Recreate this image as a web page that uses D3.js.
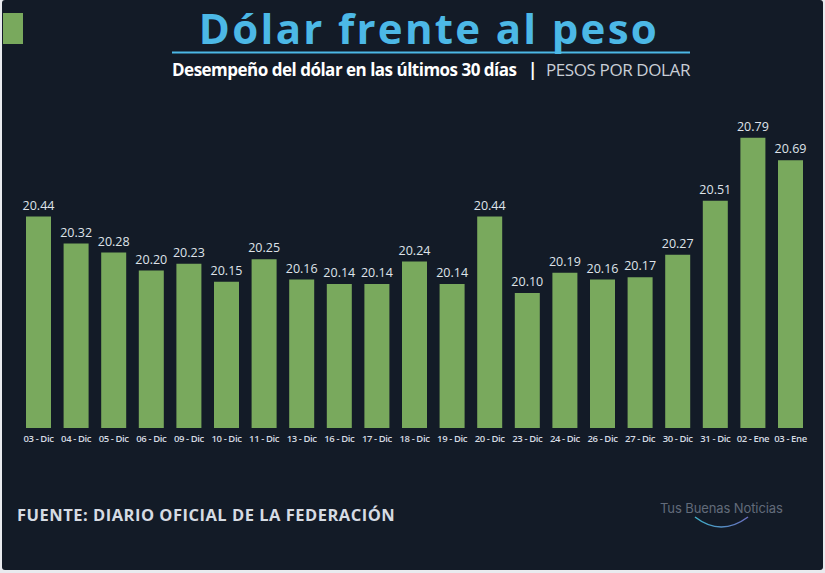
<!DOCTYPE html>
<html><head><meta charset="utf-8">
<script src="https://cdn.jsdelivr.net/npm/d3@7/dist/d3.min.js"></script>
<style>html,body{margin:0;padding:0;background:#e9ebef;}svg{display:block;}</style>
</head><body>
<script>
const categories = ["03 - Dic","04 - Dic","05 - Dic","06 - Dic","09 - Dic","10 - Dic","11 - Dic","13 - Dic","16 - Dic","17 - Dic","18 - Dic","19 - Dic","20 - Dic","23 - Dic","24 - Dic","26 - Dic","27 - Dic","30 - Dic","31 - Dic","02 - Ene","03 - Ene"];
const values = [20.44,20.32,20.28,20.20,20.23,20.15,20.25,20.16,20.14,20.14,20.24,20.14,20.44,20.10,20.19,20.16,20.17,20.27,20.51,20.79,20.69];
const valueLabels = ["20.44","20.32","20.28","20.20","20.23","20.15","20.25","20.16","20.14","20.14","20.24","20.14","20.44","20.10","20.19","20.16","20.17","20.27","20.51","20.79","20.69"];

const W = 825, H = 573;
const svg = d3.select("body").append("svg").attr("width", W).attr("height", H);

svg.append("rect").attr("x",2).attr("y",0).attr("width",821).attr("height",570).attr("rx",3).attr("fill","#131b27");

// green square
svg.append("rect").attr("x",3).attr("y",13).attr("width",20).attr("height",31).attr("fill","#79a95d");

// title
svg.append("text").attr("x",429).attr("y",44).attr("text-anchor","middle")
  .attr("font-family","Open Sans").attr("font-weight",700).attr("font-size",42).attr("letter-spacing",2.3)
  .attr("fill","#4cb8e6").text("Dólar frente al peso");
svg.append("line").attr("x1",172).attr("x2",690).attr("y1",52.5).attr("y2",52.5).attr("stroke","#4cb8e6").attr("stroke-width",2);

const sub = svg.append("text").attr("x",172).attr("y",76).attr("font-family","Open Sans").attr("font-size",17);
sub.append("tspan").attr("font-weight",700).attr("fill","#ffffff").attr("letter-spacing",-0.5).text("Desempeño del dólar en las últimos 30 días");
sub.append("tspan").attr("x",528).attr("font-weight",700).attr("fill","#ffffff").text("|");
sub.append("tspan").attr("x",546).attr("font-weight",400).attr("fill","#c9ced6").attr("letter-spacing",-0.4).text("PESOS POR DOLAR");

// chart
const x = d3.scaleBand().domain(categories).range([19.7, 809.3]).paddingInner(0.335).paddingOuter(0.1675);
const y = d3.scaleLinear().domain([19.5, 20.8]).range([428, 135.5]);

const g = svg.append("g");
g.selectAll("rect.bar").data(values).join("rect").attr("class","bar")
  .attr("x",(d,i)=>x(categories[i])).attr("width",x.bandwidth())
  .attr("y",d=>y(d)).attr("height",d=>y(19.5)-y(d)).attr("fill","#79a95d");

g.selectAll("text.val").data(values).join("text").attr("class","val")
  .attr("x",(d,i)=>x(categories[i])+x.bandwidth()/2).attr("y",d=>y(d)-7)
  .attr("text-anchor","middle").attr("font-family","Open Sans").attr("font-size",12.5)
  .attr("fill","#dfe3ea").text((d,i)=>valueLabels[i]);

const xAxis = d3.axisBottom(x).tickSize(0).tickPadding(7);
const ax = svg.append("g").attr("transform","translate(0,428)").call(xAxis);
ax.select(".domain").remove();
ax.selectAll("text").attr("font-family","Open Sans").attr("font-size",9.5).attr("letter-spacing",-0.4)
  .attr("fill","#d5dae2").attr("font-weight",600);

// footer
svg.append("text").attr("x",17).attr("y",521).attr("font-family","Open Sans").attr("font-weight",700)
  .attr("font-size",16.5).attr("letter-spacing",0.5).attr("fill","#d6dbe3").text("FUENTE: DIARIO OFICIAL DE LA FEDERACIÓN");

// logo
svg.append("text").attr("x",660).attr("y",513).attr("font-family","Inter").attr("font-size",13)
  .attr("letter-spacing",-0.1).attr("fill","#626b7a").text("Tus Buenas Noticias");
const defs = svg.append("defs");
const lg = defs.append("linearGradient").attr("id","arcg").attr("x1","0").attr("x2","1");
lg.append("stop").attr("offset","0").attr("stop-color","#3fb0c8");
lg.append("stop").attr("offset","1").attr("stop-color","#6a6fc0");
svg.append("path").attr("d","M695,517 Q721,537 748,517").attr("fill","none").attr("stroke","url(#arcg)").attr("stroke-width",1.5);
</script>
</body></html>
